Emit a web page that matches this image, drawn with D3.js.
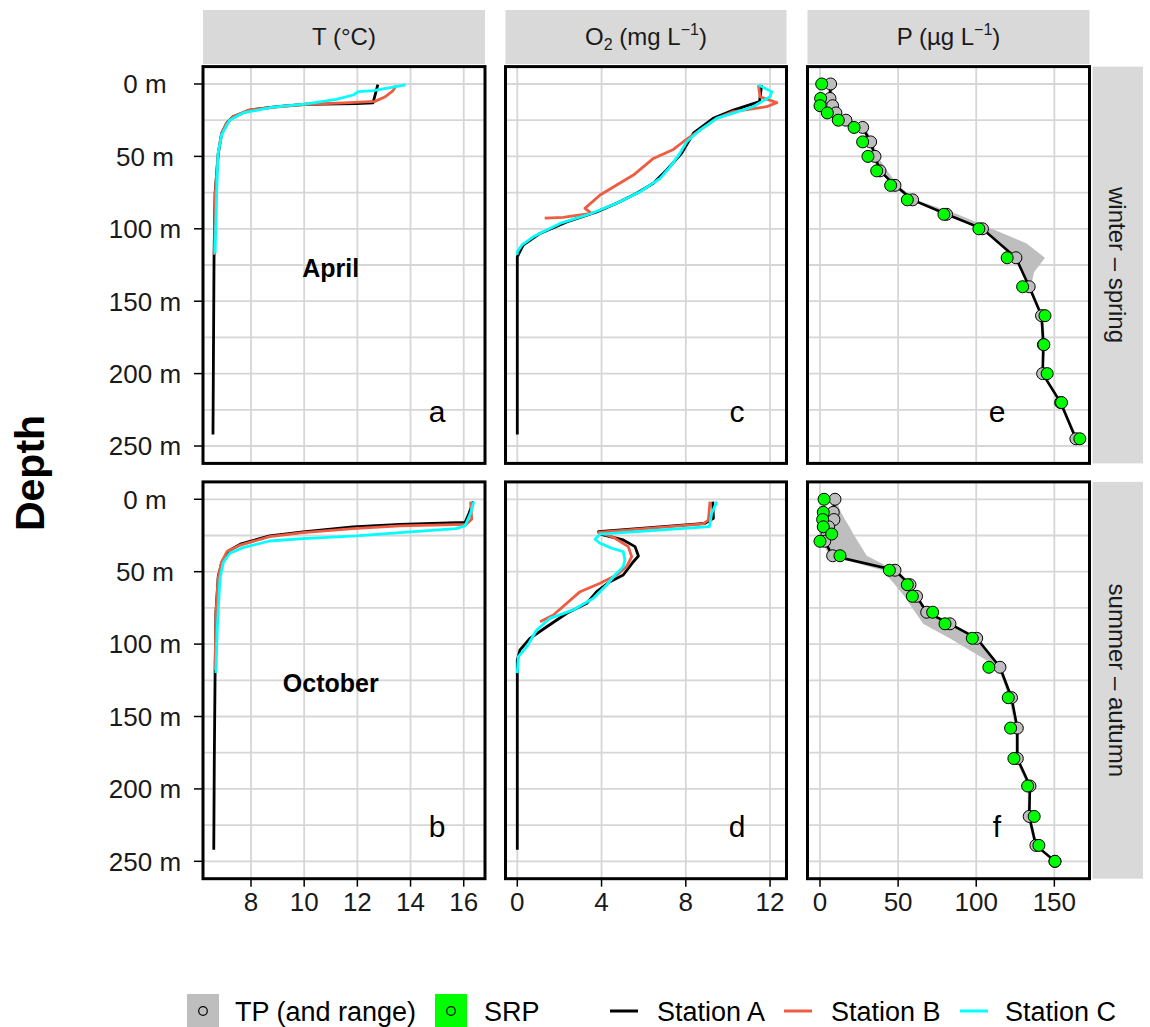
<!DOCTYPE html>
<html><head><meta charset="utf-8">
<script src="https://cdn.jsdelivr.net/npm/d3@7"></script>
<style>body{margin:0;background:#fff}svg{display:block;font-family:"Liberation Sans",Arial,Helvetica,sans-serif}</style>
</head><body><svg id="c" width="1150" height="1027"></svg>
<script>
// ---------- data ----------
const depthTicks = [0, 50, 100, 150, 200, 250];
const depthTickLabels = ["0 m", "50 m", "100 m", "150 m", "200 m", "250 m"];
const depthGrid = [0, 25, 50, 75, 100, 125, 150, 175, 200, 225, 250];
const tempTicks = [8, 10, 12, 14, 16];
const oxyTicks = [0, 4, 8, 12];
const phosTicks = [0, 50, 100, 150];
const stations = ["Station A", "Station B", "Station C"];
const stationColors = ["#000000", "#EE5C42", "#00FFFF"];
const rowLabels = ["winter \u2013 spring", "summer \u2013 autumn"];
const monthLabels = ["April", "October"];
const panelLetters = [["a", "c", "e"], ["b", "d", "f"]];

// temperature profiles [depth m, T °C]
const tempAprA = [[0.5,12.77],[13,12.59],[13.5,11.97],[14,10.09],[15.6,8.97],[18,7.96],[22.6,7.32],[27,7.09],[34,6.90],[48,6.77],[75,6.65],[120,6.61],[180,6.59],[242,6.57]];
const tempAprB = [[1,13.47],[5,13.32],[9,13.03],[12,12.66],[13,11.5],[14,10.1],[16,8.9],[18,7.9],[23,7.3],[28,7.05],[35,6.88],[50,6.75],[75,6.66],[118,6.62]];
const tempAprC = [[0.7,13.8],[4.6,12.6],[5.3,12.03],[7.6,11.85],[10.6,11.2],[13.8,10.09],[16,8.83],[20,7.7],[25,7.2],[35,6.9],[48,6.76],[75,6.71],[117,6.65]];
const tempOctA = [[1.6,16.36],[9.6,16.2],[16,16.05],[17.4,13.6],[19.1,11.83],[22.6,9.95],[25.3,8.7],[31,7.6],[35.7,7.15],[43.7,6.9],[53,6.77],[78,6.68],[120,6.65],[180,6.62],[242,6.6]];
const tempOctB = [[1.6,16.26],[13.8,16.3],[17.3,16.1],[18.4,13.6],[20.3,11.83],[23,9.95],[25.8,8.7],[31.6,7.6],[36,7.1],[44,6.88],[55,6.76],[80,6.68],[118,6.65]];
const tempOctC = [[1.6,16.38],[9.6,16.26],[18.4,16.05],[20.3,15.7],[23,13.6],[25.3,11.97],[27.1,9.95],[28.8,8.7],[33.4,7.7],[37.3,7.2],[43.7,6.96],[55,6.83],[90,6.73],[120,6.68]];

// oxygen profiles [depth m, O2 mg/L]
const oxyAprA = [[0.7,11.6],[12.2,11.5],[18,10.26],[23.7,9.3],[34,8.36],[47.9,7.8],[59.4,7.09],[68.6,6.46],[75.5,5.67],[82.4,4.72],[88.3,3.77],[95.2,2.35],[103.2,1.08],[111.3,0.28],[119.3,0],[180,0],[242,0]];
const oxyAprB = [[0.7,11.45],[8.8,11.52],[12.9,12.32],[15.7,11.84],[19.1,10.26],[23.7,9.47],[31.8,8.67],[39.9,7.88],[45.2,7.41],[51.4,6.46],[57.2,5.98],[62.9,5.51],[69.8,4.72],[76.7,3.93],[85.9,3.21],[89.4,3.53],[90.5,2.9],[92.1,2.18],[92.6,1.3]];
const oxyAprC = [[0.7,11.45],[5.3,12.08],[8.8,12.0],[12.2,11.6],[15.7,11.2],[23.7,9.47],[31.8,8.67],[39.9,8.04],[47.9,7.72],[57.2,7.25],[65.2,6.78],[74.4,5.83],[82.4,4.72],[89.8,3.45],[96.3,2.03],[105.5,0.76],[111.3,0.21],[115.9,0],[118,0]];
const oxyOctA = [[1.6,9.28],[13.1,9.31],[16.6,8.91],[22.4,3.85],[24,3.93],[28.1,5.03],[32.7,5.59],[39.2,5.75],[43.1,5.51],[52.3,5.03],[56.9,4.4],[63.8,3.77],[71.8,3.3],[78.7,2.35],[88,1.4],[96,0.6],[104,0.13],[111,0],[180,0],[242,0]];
const oxyOctB = [[1.6,9.15],[14.3,9.07],[17,8.83],[22.8,3.85],[26.2,4.56],[32.7,5.27],[39.6,5.43],[46.5,5.19],[52.3,4.72],[58,3.93],[63.8,2.98],[71.8,2.35],[79.9,1.71],[84.5,1.08]];
const oxyOctC = [[1.6,9.47],[9.7,9.23],[18.9,9.12],[24,3.93],[27.6,3.69],[30.4,3.93],[33.8,4.48],[36.2,5.03],[41.9,5.11],[46.5,5.03],[52.3,4.64],[59.2,4.24],[68.4,3.61],[76.4,2.66],[82.2,1.55],[90.3,0.92],[101.8,0.45],[108.7,0.05],[120,0]];

// phosphorus (µg/L)
const pDepthApr = [0,10,15,20,25,30,40,50,60,70,80,90,100,120,140,160,180,200,220,245];
const tpApr  = [6.8,6.4,8.1,10.2,16.6,27.3,32.4,35.2,38.4,48,59.3,81,104,125.4,133.9,141.8,143,142.5,154,163.8];
const srpApr = [1.1,0.4,0,4.7,11.7,21.8,27.3,30.7,36.3,45.2,55.9,79.3,101.7,119.8,129.7,144,143.3,145.4,154.6,166.3];
const rangeDepthApr = [0,10,15,20,25,30,40,50,60,70,80,90,100,110,120,130,140,160,180,200,220,245];
const tpMinApr = [5,5,7,9,15,26,31,34,37,47,58,80,103,114,124,129,133,141,142,142,153,163];
const tpMaxApr = [8,8,9,11,18,29,34,37,43,50,61,88,110,132,144,137,135,143,144,143,155,165];

const pDepthOct = [0,9,14,19,24,29,39,49,59,67,78,86,96,116,137,158,179,198,219,239,250];
const tpOct  = [9.6,8.5,8.9,5.5,4.5,3,8.1,48,57.6,61.8,68.3,83.2,100.3,115.2,122.6,126.3,126.3,134.4,133.9,138.2,150.4];
const srpOct = [2.6,2.1,1.7,2.1,7.5,0,12.8,44.4,55.9,59.1,72.1,80,97.5,108.1,120.5,122,124.1,132.9,137.1,140.1,150.4];
const tpMinOct = [8,7,7,3,3,1,6,40,48,54,61,66,83,114,121,125,125,133,133,137,150];
const tpMaxOct = [10,13.4,16,18.8,21.3,24.2,29.9,48,58,62,70,84,101,116,123,127,127,135,135,139,151];

// ---------- layout ----------
const svg = d3.select('#c');
const FONT = 26;
const cols = [{x0:203, x1:485}, {x0:505.5, x1:786.5}, {x0:807.5, x1:1089.5}];
const rows = [{y0:66.6, y1:463.4}, {y0:481.9, y1:878.7}];
const xScales = [
  d3.scaleLinear().domain([6.195, 16.80]).range([cols[0].x0, cols[0].x1]),
  d3.scaleLinear().domain([-0.56, 12.78]).range([cols[1].x0, cols[1].x1]),
  d3.scaleLinear().domain([-8, 172.5]).range([cols[2].x0, cols[2].x1])
];
const xTicks = [tempTicks, oxyTicks, phosTicks];
const letterX = [437, 737, 997];
const yScales = rows.map(r => d3.scaleLinear().domain([-12, 262]).range([r.y0, r.y1]));

const tempData = [[tempAprA, tempAprB, tempAprC], [tempOctA, tempOctB, tempOctC]];
const oxyData  = [[oxyAprA, oxyAprB, oxyAprC], [oxyOctA, oxyOctB, oxyOctC]];
const pData = [
  {depth:pDepthApr, tp:tpApr, srp:srpApr, rd:rangeDepthApr, mn:tpMinApr, mx:tpMaxApr},
  {depth:pDepthOct, tp:tpOct, srp:srpOct, rd:pDepthOct, mn:tpMinOct, mx:tpMaxOct}
];

// top strips
const stripTitles = [
  [{t:"T (\u00B0C)"}],
  [{t:"O"},{t:"2",sub:true},{t:" (mg L"},{t:"\u22121",sup:true},{t:")"}],
  [{t:"P (\u00B5g L"},{t:"\u22121",sup:true},{t:")"}]
];
cols.forEach((c, i) => {
  svg.append('rect').attr('x', c.x0).attr('y', 10).attr('width', c.x1 - c.x0).attr('height', 54).attr('fill', '#D9D9D9');
  const t = svg.append('text').attr('x', (c.x0 + c.x1) / 2).attr('y', 45).attr('text-anchor', 'middle')
    .attr('font-size', 24).attr('fill', '#1a1a1a');
  let shift = 0;
  stripTitles[i].forEach(p => {
    const s = t.append('tspan').text(p.t);
    const target = p.sub ? 5 : (p.sup ? -10 : 0);
    s.attr('dy', target - shift);
    shift = target;
    if (p.sub || p.sup) s.attr('font-size', 16);
  });
});

// right strips
rows.forEach((r, j) => {
  svg.append('rect').attr('x', 1092.5).attr('y', r.y0).attr('width', 50.5).attr('height', r.y1 - r.y0).attr('fill', '#D9D9D9');
  const cy = (r.y0 + r.y1) / 2;
  svg.append('text').attr('transform', `translate(1117.5,${cy}) rotate(90)`).attr('text-anchor', 'middle')
    .attr('dy', '0.35em').attr('font-size', 24).attr('fill', '#1a1a1a').text(rowLabels[j]);
});

const lineGen = (xs, ys) => d3.line().x(d => xs(d[1])).y(d => ys(d[0]));

rows.forEach((r, j) => {
  const ys = yScales[j];
  cols.forEach((c, i) => {
    const xs = xScales[i];
    const g = svg.append('g');
    g.append('rect').attr('x', c.x0).attr('y', r.y0).attr('width', c.x1 - c.x0).attr('height', r.y1 - r.y0).attr('fill', '#fff');
    g.selectAll('line.hg').data(depthGrid).join('line')
      .attr('x1', c.x0).attr('x2', c.x1).attr('y1', d => ys(d)).attr('y2', d => ys(d))
      .attr('stroke', '#D6D6D6').attr('stroke-width', 1.8);
    g.selectAll('line.vg').data(xTicks[i]).join('line')
      .attr('x1', d => xs(d)).attr('x2', d => xs(d)).attr('y1', r.y0).attr('y2', r.y1)
      .attr('stroke', '#D6D6D6').attr('stroke-width', 1.8);

    if (i < 2) {
      const series = i === 0 ? tempData[j] : oxyData[j];
      const lg = lineGen(xs, ys);
      series.forEach((s, k) => {
        g.append('path').attr('d', lg(s)).attr('fill', 'none').attr('stroke', stationColors[k])
          .attr('stroke-width', 2.8).attr('stroke-linejoin', 'round');
      });
    } else {
      const pd = pData[j];
      const rib = pd.rd.map((d, k) => ({d, mn: pd.mn[k], mx: pd.mx[k]}));
      const area = d3.area().y(d => ys(d.d)).x0(d => xs(d.mn)).x1(d => xs(d.mx));
      g.append('path').attr('d', area(rib)).attr('fill', '#BEBEBE');
      const tpPts = pd.depth.map((d, k) => [d, pd.tp[k]]);
      const srpPts = pd.depth.map((d, k) => [d, pd.srp[k]]);
      g.append('path').attr('d', lineGen(xs, ys)(tpPts)).attr('fill', 'none').attr('stroke', '#000').attr('stroke-width', 2.6);
      g.selectAll('circle.tp').data(tpPts).join('circle')
        .attr('cx', d => xs(d[1])).attr('cy', d => ys(d[0])).attr('r', 6)
        .attr('fill', '#BEBEBE').attr('stroke', '#000').attr('stroke-width', 1);
      g.selectAll('circle.srp').data(srpPts).join('circle')
        .attr('cx', d => xs(d[1])).attr('cy', d => ys(d[0])).attr('r', 6)
        .attr('fill', '#00FF00').attr('stroke', '#000').attr('stroke-width', 1);
    }
    g.append('text').attr('x', letterX[i]).attr('y', ys(250) - 24).attr('text-anchor', 'middle')
      .attr('font-size', 30).attr('fill', '#000').text(panelLetters[j][i]);
    g.append('rect').attr('x', c.x0).attr('y', r.y0).attr('width', c.x1 - c.x0).attr('height', r.y1 - r.y0)
      .attr('fill', 'none').attr('stroke', '#000').attr('stroke-width', 3);
  });
  svg.append('text').attr('x', xScales[0](11)).attr('y', ys(127)).attr('dy', '0.35em').attr('text-anchor', 'middle')
    .attr('font-size', 25).attr('font-weight', 'bold').attr('fill', '#000').text(monthLabels[j]);
  const ya = svg.append('g');
  ya.selectAll('line').data(depthTicks).join('line')
    .attr('x1', cols[0].x0 - 9).attr('x2', cols[0].x0).attr('y1', d => ys(d)).attr('y2', d => ys(d))
    .attr('stroke', '#000').attr('stroke-width', 1.5);
  ya.selectAll('text').data(depthTicks).join('text')
    .attr('x', 145).attr('y', d => ys(d)).attr('dy', '0.36em').attr('text-anchor', 'middle')
    .attr('font-size', FONT).attr('fill', '#1a1a1a').text((d, k) => depthTickLabels[k]);
});

cols.forEach((c, i) => {
  const xs = xScales[i];
  const y = rows[1].y1;
  const ga = svg.append('g');
  ga.selectAll('line').data(xTicks[i]).join('line')
    .attr('x1', d => xs(d)).attr('x2', d => xs(d)).attr('y1', y).attr('y2', y + 8)
    .attr('stroke', '#000').attr('stroke-width', 1.5);
  ga.selectAll('text').data(xTicks[i]).join('text')
    .attr('x', d => xs(d)).attr('y', 911).attr('text-anchor', 'middle')
    .attr('font-size', FONT).attr('fill', '#1a1a1a').text(d => d);
});

svg.append('text').attr('transform', 'translate(44,473) rotate(-90)').attr('text-anchor', 'middle')
  .attr('font-size', 41).attr('font-weight', 'bold').attr('fill', '#000').text('Depth');

// legend
const LEG = 27;
const leg = svg.append('g');
const pointKeys = [{label:"TP (and range)", fill:"#BEBEBE", x:187, tx:235}, {label:"SRP", fill:"#00FF00", x:435, tx:484}];
pointKeys.forEach(k => {
  leg.append('rect').attr('x', k.x).attr('y', 994).attr('width', 32).attr('height', 33).attr('fill', k.fill);
  leg.append('circle').attr('cx', k.x + 16).attr('cy', 1011).attr('r', 4.3).attr('fill', 'none').attr('stroke', '#000').attr('stroke-width', 1.2);
  leg.append('text').attr('x', k.tx).attr('y', 1011).attr('dy', '0.36em').attr('font-size', LEG).attr('fill', '#000').text(k.label);
});
const lineKeyX = [610, 784, 960];
const lineTextX = [657, 831, 1005];
stations.forEach((s, k) => {
  leg.append('line').attr('x1', lineKeyX[k]).attr('x2', lineKeyX[k] + 28).attr('y1', 1011).attr('y2', 1011)
    .attr('stroke', stationColors[k]).attr('stroke-width', 3);
  leg.append('text').attr('x', lineTextX[k]).attr('y', 1011).attr('dy', '0.36em').attr('font-size', LEG).attr('fill', '#000').text(s);
});
</script></body></html>
